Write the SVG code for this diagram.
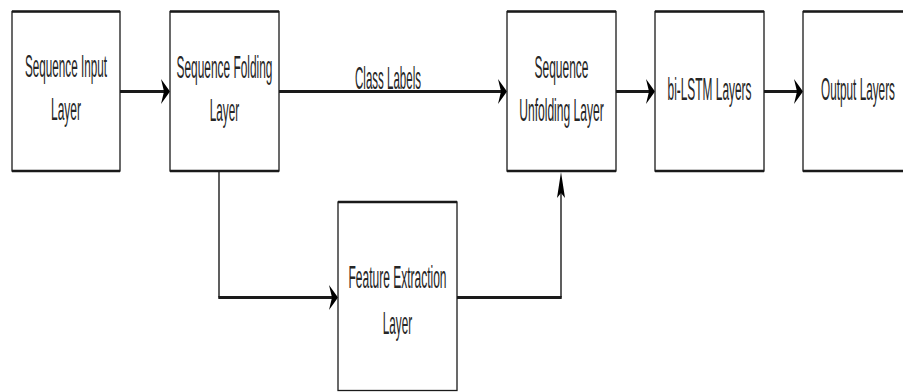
<svg xmlns="http://www.w3.org/2000/svg" width="903" height="392" viewBox="0 0 903 392">
  <defs>
    <style>
      .box { fill: #ffffff; stroke: #1a1a1a; stroke-width: 1.3; }
      .edge { stroke: #1a1a1a; stroke-width: 2.6; fill: none; }
      .wire-h { stroke: #1a1a1a; stroke-width: 3; fill: none; }
      .wire-v { stroke: #1a1a1a; stroke-width: 1.4; fill: none; }
      .head { fill: #000000; }
      text { font-family: "Liberation Sans", Arial, sans-serif; font-size: 31px; fill: #262626; text-anchor: middle; }
    </style>
    <!-- arrowheads, tip at the origin -->
    <path id="head-right" d="M0,0 L-9,-12.5 L-6,0 L-9,12.5 Z"/>
    <path id="head-up" d="M0,0 L4,26 L0,21 L-4,26 Z"/>
  </defs>

  <g id="connectors">
    <!-- Sequence Input -> Sequence Folding -->
    <line class="wire-h" x1="120" y1="91.5" x2="164" y2="91.5"/>
    <use class="head" href="#head-right" x="170" y="91.5"/>
    <!-- Sequence Folding -> Sequence Unfolding (class labels) -->
    <line class="wire-h" x1="279" y1="91.5" x2="501" y2="91.5"/>
    <use class="head" href="#head-right" x="507" y="91.5"/>
    <text transform="translate(388,89) scale(0.372,1)">Class Labels</text>
    <!-- Sequence Folding -> Feature Extraction -->
    <line class="wire-v" x1="219" y1="171" x2="219" y2="297.5"/>
    <line class="wire-h" x1="218.3" y1="297.5" x2="332" y2="297.5"/>
    <use class="head" href="#head-right" x="338" y="297.5"/>
    <!-- Feature Extraction -> Sequence Unfolding -->
    <line class="wire-h" x1="457" y1="297.5" x2="561.7" y2="297.5"/>
    <line class="wire-v" x1="561" y1="297.5" x2="561" y2="192"/>
    <use class="head" href="#head-up" x="561" y="172"/>
    <!-- Sequence Unfolding -> bi-LSTM -->
    <line class="wire-h" x1="616" y1="91.5" x2="649" y2="91.5"/>
    <use class="head" href="#head-right" x="655" y="91.5"/>
    <!-- bi-LSTM -> Output -->
    <line class="wire-h" x1="764" y1="91.5" x2="797" y2="91.5"/>
    <use class="head" href="#head-right" x="803" y="91.5"/>
  </g>

  <g id="sequence-input">
    <rect class="box" x="12" y="11.5" width="108" height="159.5"/>
    <path class="edge" d="M12,11.5 H120 M12,171 H120"/>
    <text transform="translate(66,77) scale(0.378,1)">Sequence Input</text>
    <text transform="translate(66,120) scale(0.387,1)">Layer</text>
  </g>

  <g id="sequence-folding">
    <rect class="box" x="170" y="11.5" width="109" height="159.5"/>
    <path class="edge" d="M170,11.5 H279 M170,171 H279"/>
    <text transform="translate(224.5,78) scale(0.384,1)">Sequence Folding</text>
    <text transform="translate(224.5,121) scale(0.38,1)">Layer</text>
  </g>

  <g id="sequence-unfolding">
    <rect class="box" x="507" y="11.5" width="109" height="159.5"/>
    <path class="edge" d="M507,11.5 H616 M507,171 H616"/>
    <text transform="translate(561.5,78) scale(0.387,1)">Sequence</text>
    <text transform="translate(561.5,121) scale(0.39,1)">Unfolding Layer</text>
  </g>

  <g id="bi-lstm">
    <rect class="box" x="655" y="11.5" width="109" height="159.5"/>
    <path class="edge" d="M655,11.5 H764 M655,171 H764"/>
    <text transform="translate(709.5,100) scale(0.384,1)">bi-LSTM Layers</text>
  </g>

  <g id="output">
    <rect class="box" x="803" y="11.5" width="109" height="159.5"/>
    <path class="edge" d="M803,11.5 H912 M803,171 H912"/>
    <text transform="translate(858,100) scale(0.38,1)">Output Layers</text>
  </g>

  <g id="feature-extraction">
    <rect class="box" x="338" y="202" width="119" height="188.5"/>
    <path class="edge" d="M338,202 H457"/>
    <text transform="translate(397.5,288) scale(0.387,1)">Feature Extraction</text>
    <text transform="translate(397.5,334) scale(0.38,1)">Layer</text>
  </g>
</svg>
